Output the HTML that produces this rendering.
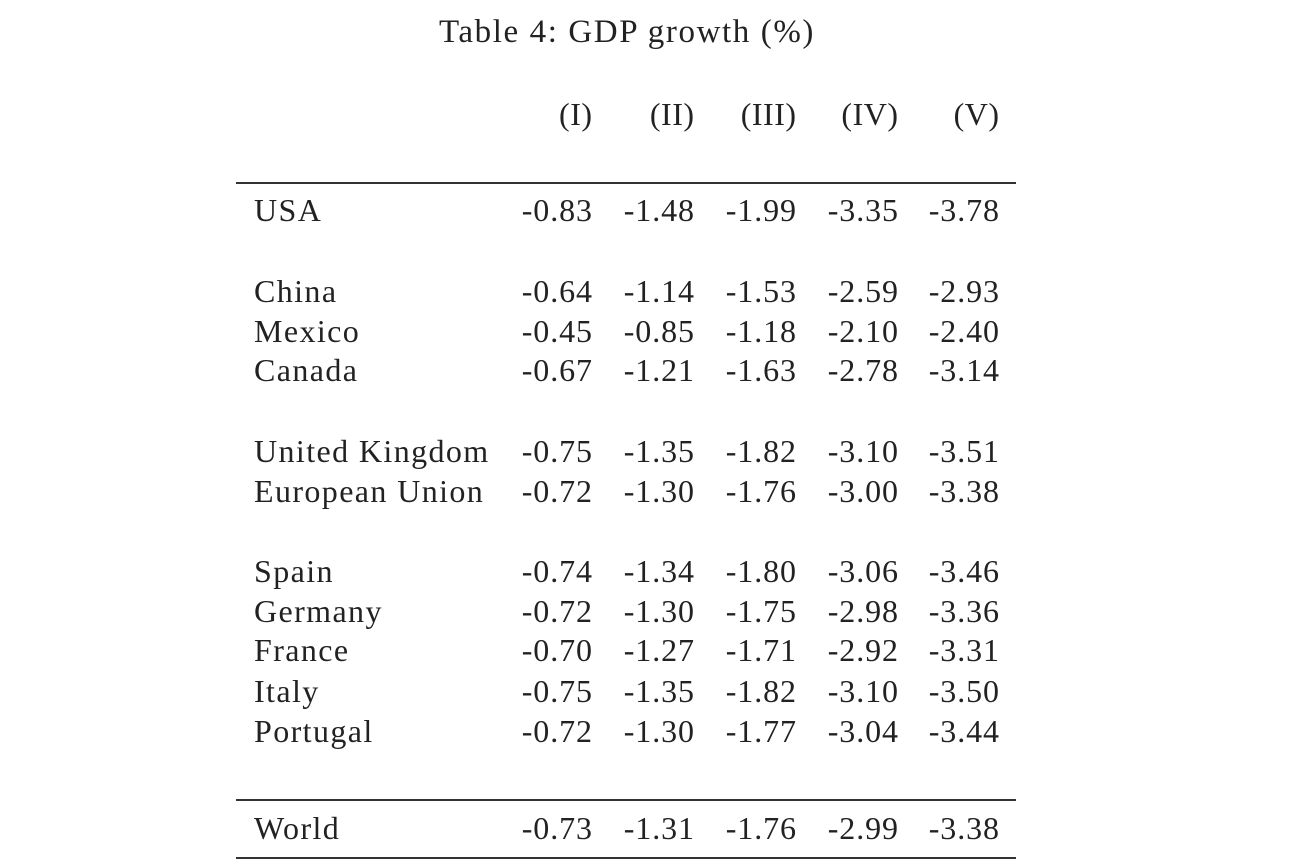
<!DOCTYPE html>
<html><head><meta charset="utf-8"><style>
body{margin:0;width:1300px;height:866px;background:#fff;position:relative;overflow:hidden;font-family:"Liberation Serif",serif;color:#222;}
.t{position:absolute;font-size:32px;line-height:40px;white-space:nowrap;}
.r{position:absolute;height:2px;background:#333;left:236px;width:780px;}
</style></head><body>
<div class="t" style="left:0;width:1254px;text-align:center;top:12px;font-size:33px;letter-spacing:1.6px">Table 4: GDP growth (%)</div>
<div id="tbl"></div>
<div class="r" style="top:182px"></div>
<div class="r" style="top:799px"></div>
<div class="r" style="top:857px"></div>
<script>
const headers=["(I)","(II)","(III)","(IV)","(V)"];
const rows=["USA","China","Mexico","Canada","United Kingdom","European Union","Spain","Germany","France","Italy","Portugal","World"];
const vals=[
["-0.83","-1.48","-1.99","-3.35","-3.78"],
["-0.64","-1.14","-1.53","-2.59","-2.93"],
["-0.45","-0.85","-1.18","-2.10","-2.40"],
["-0.67","-1.21","-1.63","-2.78","-3.14"],
["-0.75","-1.35","-1.82","-3.10","-3.51"],
["-0.72","-1.30","-1.76","-3.00","-3.38"],
["-0.74","-1.34","-1.80","-3.06","-3.46"],
["-0.72","-1.30","-1.75","-2.98","-3.36"],
["-0.70","-1.27","-1.71","-2.92","-3.31"],
["-0.75","-1.35","-1.82","-3.10","-3.50"],
["-0.72","-1.30","-1.77","-3.04","-3.44"],
["-0.73","-1.31","-1.76","-2.99","-3.38"]];
const rowY=[211,292,332,371,452,492,572,612,651,692,732,829];
const colR=[592,694,796,898,999];
const tb=document.getElementById('tbl');
function add(txt,x,y,right,name,ls){
 const d=document.createElement('div');d.className='t';d.textContent=txt;
 
 
 d.style.letterSpacing=ls+'px';
 if(right){d.style.right=(1300-x-ls)+'px';}else d.style.left=x+'px';
 d.style.top=(y-21)+'px';tb.appendChild(d);
}
headers.forEach((h,j)=>add(h,colR[j],115,true,'column-header',0.5));
rows.forEach((r,i)=>{
 add(r,254,rowY[i],false,'row-label',1.4);
 vals[i].forEach((v,j)=>add(v,colR[j],rowY[i],true,'cell-value',0.9));
});
</script>
</body></html>
